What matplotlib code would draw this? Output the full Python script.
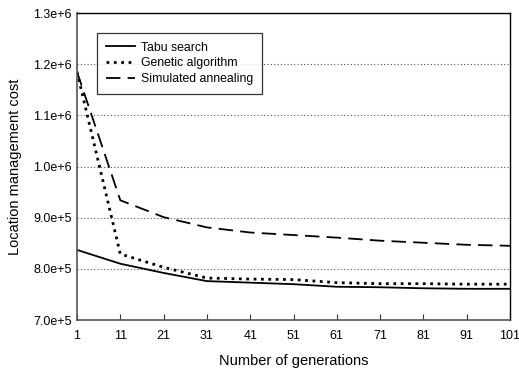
import numpy as np
import matplotlib.pyplot as plt

plt.rcParams['font.family'] = ['Liberation Sans', 'DejaVu Sans']

generations = [1, 11, 21, 31, 41, 51, 61, 71, 81, 91, 101]
tabu = [8.37e5, 8.10e5, 7.92e5, 7.76e5, 7.73e5, 7.70e5, 7.65e5, 7.64e5, 7.62e5, 7.61e5, 7.61e5]
genetic = [1.185e6, 8.29e5, 8.03e5, 7.82e5, 7.80e5, 7.79e5, 7.73e5, 7.71e5, 7.71e5, 7.70e5, 7.70e5]
annealing = [1.185e6, 9.34e5, 9.01e5, 8.81e5, 8.71e5, 8.66e5, 8.61e5, 8.55e5, 8.51e5, 8.47e5, 8.45e5]
yticks = [7.0e5, 8.0e5, 9.0e5, 1.0e6, 1.1e6, 1.2e6, 1.3e6]
ytick_labels = ['7.0e+5', '8.0e+5', '9.0e+5', '1.0e+6', '1.1e+6', '1.2e+6', '1.3e+6']

fig = plt.figure(figsize=(5.19, 3.69), dpi=100)
ax = fig.add_axes([77/519, 1 - 320/369, (510 - 77)/519, (320 - 13)/369])

ax.plot(generations, tabu, '-', color='black', lw=1.3, label='Tabu search')
ax.plot(generations, genetic, ':', color='black', lw=2.0, label='Genetic algorithm')
ax.plot(generations, annealing, '--', color='black', lw=1.3, dashes=(8, 4), label='Simulated annealing')

ax.set_xlim(1, 101)
ax.set_ylim(7.0e5, 1.3e6)
ax.set_xticks(generations)
ax.set_yticks(yticks)
ax.set_yticklabels(ytick_labels)
ax.tick_params(axis='x', direction='in', length=4, labelsize=9, pad=7, color='#333333')
ax.tick_params(axis='y', length=0, labelsize=9, pad=4)
ax.yaxis.grid(True, linestyle=(0, (1, 2)), color='#555555', lw=0.8)

for s in ['left', 'bottom']:
    ax.spines[s].set_color('#555555')
    ax.spines[s].set_linewidth(1.2)
for s in ['top', 'right']:
    ax.spines[s].set_color('black')
    ax.spines[s].set_linewidth(1.0)

ax.set_xlabel('Number of generations', fontsize=10.5, labelpad=9)
ax.set_ylabel('Location management cost', fontsize=10.5, labelpad=8)

leg = ax.legend(loc='upper left', bbox_to_anchor=(97/519, 1 - 33/369),
                bbox_transform=fig.transFigure, fontsize=8.8,
                frameon=True, fancybox=False, handlelength=2.4, handletextpad=0.5,
                borderpad=0.7, labelspacing=0.32, borderaxespad=0)
leg.get_frame().set_edgecolor('black')
leg.get_frame().set_linewidth(0.9)

fig.savefig('out.png', dpi=100)
